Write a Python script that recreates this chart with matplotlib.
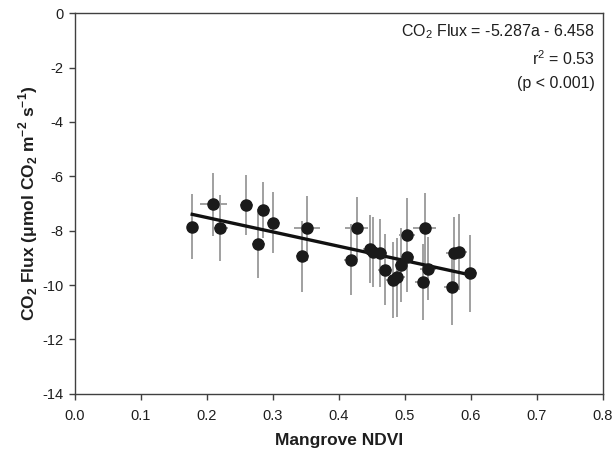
import matplotlib
matplotlib.use("Agg")
import matplotlib.pyplot as plt
import numpy as np

# --- data ---
ndvi = [0.178, 0.210, 0.220, 0.260, 0.278, 0.286, 0.301, 0.345, 0.352,
        0.418, 0.427, 0.447, 0.452, 0.463, 0.470, 0.482, 0.488, 0.495,
        0.504, 0.504, 0.527, 0.530, 0.535, 0.571, 0.574, 0.583, 0.599]
flux = [-7.85, -7.03, -7.91, -7.05, -8.50, -7.24, -7.70, -8.95, -7.92,
        -9.07, -7.92, -8.68, -8.78, -8.82, -9.43, -9.82, -9.72, -9.26,
        -8.16, -8.97, -9.88, -7.92, -9.40, -10.08, -8.81, -8.80, -9.57]
ndvi_err = [0.005, 0.020, 0.012, 0.010, 0.010, 0.010, 0.010, 0.010, 0.019,
            0.010, 0.018, 0.010, 0.012, 0.010, 0.010, 0.010, 0.012, 0.010,
            0.012, 0.010, 0.012, 0.018, 0.012, 0.012, 0.012, 0.012, 0.010]
flux_err = [1.20, 1.15, 1.22, 1.10, 1.24, 1.03, 1.13, 1.30, 1.20,
            1.30, 1.15, 1.25, 1.30, 1.25, 1.30, 1.40, 1.45, 1.35,
            1.35, 1.30, 1.40, 1.30, 1.15, 1.40, 1.30, 1.40, 1.42]

slope = -5.287
intercept = -6.458

x_ticks = [0.0, 0.1, 0.2, 0.3, 0.4, 0.5, 0.6, 0.7, 0.8]
y_ticks = [0, -2, -4, -6, -8, -10, -12, -14]

plt.rcParams['font.family'] = ['Liberation Sans', 'DejaVu Sans']
plt.rcParams['mathtext.fontset'] = 'custom'
plt.rcParams['mathtext.rm'] = 'Liberation Sans'
plt.rcParams['mathtext.bf'] = 'Liberation Sans:bold'

fig = plt.figure(figsize=(6.13, 4.55), dpi=100)
ax = fig.add_axes([0.1219, 0.1347, 0.8613, 0.8361])

spine_col = '#404040'
text_col = '#1e1e1e'
for s in ax.spines.values():
    s.set_color(spine_col)
    s.set_linewidth(1.0)

# error bars first, then the fit line, then the points on top
ax.errorbar(ndvi, flux, xerr=ndvi_err, yerr=flux_err, fmt='none',
            ecolor='#a0a0a0', elinewidth=1.4, capsize=0, zorder=2)

xfit = np.array([min(ndvi), max(ndvi)])
ax.plot(xfit, slope * xfit + intercept, color='#111111', linewidth=2.4, zorder=3)

ax.plot(ndvi, flux, 'o', color='#1a1a1a', markersize=8, zorder=4)

ax.set_xlim(0, 0.8)
ax.set_ylim(-14, 0)
ax.set_xticks(x_ticks)
ax.set_xticklabels([f'{t:.1f}' for t in x_ticks])
ax.set_yticks(y_ticks)
ax.set_yticklabels([str(t) for t in y_ticks])
ax.tick_params(direction='out', length=4, width=1, color=spine_col,
               labelsize=10.5, labelcolor=text_col)
ax.tick_params(axis='x', pad=7)
ax.tick_params(axis='y', pad=4)

ax.set_xlabel('Mangrove NDVI', fontsize=12.5, fontweight='bold',
              color=text_col, labelpad=7)
ax.set_ylabel(r'CO$_\mathbf{2}$ Flux ($\mathbf{\mu}$mol CO$_\mathbf{2}$ m$^\mathbf{-2}$ s$^\mathbf{-1}$)',
              fontsize=12.5, fontweight='bold', color=text_col, labelpad=2)

ax.text(0.985, 0.952, r'CO$_2$ Flux = -5.287a - 6.458', transform=ax.transAxes,
        ha='right', va='center', fontsize=11.5, color=text_col)
ax.text(0.985, 0.882, r'r$^2$ = 0.53', transform=ax.transAxes,
        ha='right', va='center', fontsize=11.5, color=text_col)
ax.text(0.985, 0.815, '(p < 0.001)', transform=ax.transAxes,
        ha='right', va='center', fontsize=11.5, color=text_col)

fig.savefig('out.png', dpi=100)
